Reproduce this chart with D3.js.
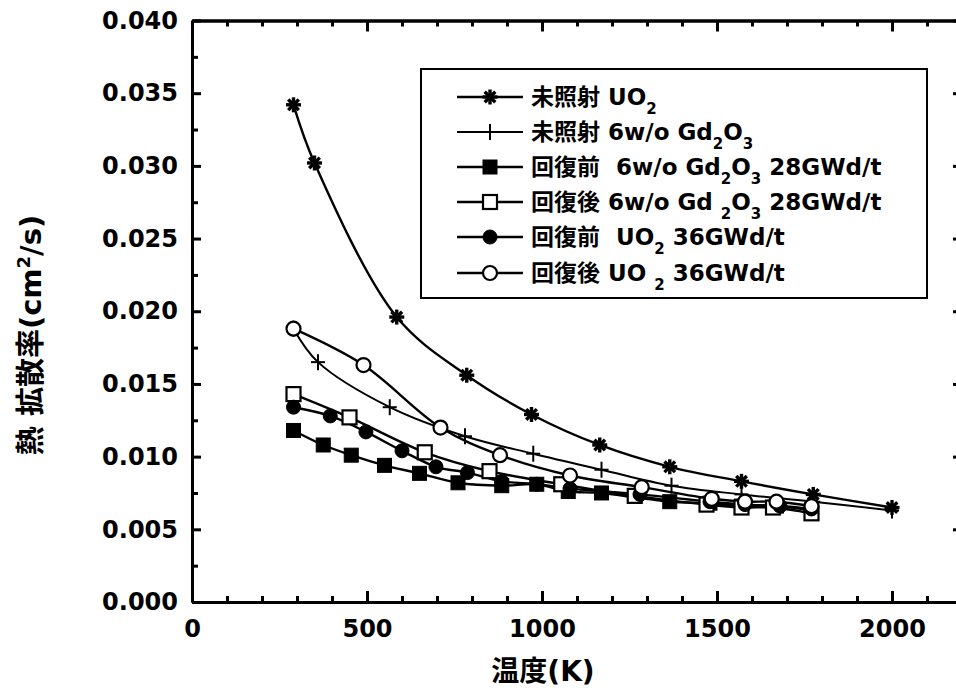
<!DOCTYPE html>
<html><head><meta charset="utf-8">
<script src="https://cdn.jsdelivr.net/npm/d3@7/dist/d3.min.js"></script>
<style>
body{margin:0;background:#fff}
svg{display:block}
text{font-family:"DejaVu Sans","Noto Sans CJK JP",sans-serif;font-weight:bold;fill:#000;white-space:pre}
</style>
</head><body>
<svg id="chart" width="956" height="694"></svg>
<script>
// ---- data ----
const xTickValues = [0, 500, 1000, 1500, 2000];
const yTickValues = [0, 0.005, 0.010, 0.015, 0.020, 0.025, 0.030, 0.035, 0.040];

const t_unirr_uo2 = [290, 350, 585, 785, 970, 1165, 1365, 1570, 1775, 2000];
const d_unirr_uo2 = [0.0342, 0.0302, 0.0196, 0.0156, 0.0129, 0.0108, 0.0093, 0.0083, 0.0074, 0.0065];

const t_unirr_gd = [290, 360, 565, 780, 975, 1170, 1370, 1570, 1775, 2000];
const d_unirr_gd = [0.0188, 0.0165, 0.0134, 0.0114, 0.0102, 0.0091, 0.0080, 0.0074, 0.0069, 0.0063];

const t_pre_gd = [290, 375, 455, 550, 650, 760, 885, 985, 1075, 1170, 1365, 1480, 1570, 1670, 1770];
const d_pre_gd = [0.0118, 0.0108, 0.0101, 0.0094, 0.00885, 0.0082, 0.0080, 0.0081, 0.0076, 0.0075, 0.0069, 0.0068, 0.0066, 0.0066, 0.0063];

const t_post_gd = [290, 450, 665, 850, 1055, 1265, 1470, 1570, 1660, 1770];
const d_post_gd = [0.0143, 0.0127, 0.0103, 0.0090, 0.0081, 0.0073, 0.0067, 0.0065, 0.0065, 0.0061];

const t_pre_uo2 = [290, 395, 497, 600, 697, 787, 885, 985, 1080, 1280, 1480, 1580, 1680, 1770];
const d_pre_uo2 = [0.0134, 0.0128, 0.0117, 0.0104, 0.0093, 0.0089, 0.0083, 0.0081, 0.0078, 0.0074, 0.0069, 0.0067, 0.0066, 0.0064];

const t_post_uo2 = [290, 490, 710, 880, 1080, 1285, 1485, 1580, 1670, 1770];
const d_post_uo2 = [0.0188, 0.0163, 0.0120, 0.0101, 0.0087, 0.0079, 0.0071, 0.0069, 0.0069, 0.0066];

const seriesMarkers = ["asterisk", "plus", "fsquare", "osquare", "fcircle", "ocircle"];
const legendLabels = [
  [["未照射 UO"], ["2", "sub"]],
  [["未照射 6w/o Gd"], ["2", "sub"], ["O"], ["3", "sub"]],
  [["回復前  6w/o Gd"], ["2", "sub"], ["O"], ["3", "sub"], [" 28GWd/t"]],
  [["回復後 6w/o Gd "], ["2", "sub"], ["O"], ["3", "sub"], [" 28GWd/t"]],
  [["回復前  UO"], ["2", "sub"], [" 36GWd/t"]],
  [["回復後 UO "], ["2", "sub"], [" 36GWd/t"]]
];
const xTitle = "温度(K)";

// ---- build ----
const series = [
  [t_unirr_uo2, d_unirr_uo2],
  [t_unirr_gd, d_unirr_gd],
  [t_pre_gd, d_pre_gd],
  [t_post_gd, d_post_gd],
  [t_pre_uo2, d_pre_uo2],
  [t_post_uo2, d_post_uo2]
].map((s, i) => ({marker: seriesMarkers[i], pts: s[0].map((t, j) => ({t, d: s[1][j]}))}));

const svg = d3.select("#chart");
const x = d3.scaleLinear().domain([0, 2200]).range([192, 962]);
const y = d3.scaleLinear().domain([0, 0.04]).range([602, 20.5]);

const minorX = d3.range(0, 2201, 100).filter(v => v % 500 !== 0);
const minorY = d3.range(0, 17).map(i => i * 0.0025).filter((v, i) => i % 2 === 1);

function styleAxis(g) {
  g.select(".domain").attr("stroke", "#000").attr("stroke-width", 3);
  g.selectAll(".tick line").attr("stroke", "#000").attr("stroke-width", 3);
  g.selectAll(".tick text").style("font-size", "24px");
}

// bottom
svg.append("g").attr("transform", "translate(0,602)")
  .call(d3.axisBottom(x).tickValues(minorX).tickSize(-6).tickFormat("").tickSizeOuter(0)).call(styleAxis);
svg.append("g").attr("transform", "translate(0,602)")
  .call(d3.axisBottom(x).tickValues(xTickValues).tickSize(-11).tickPadding(18).tickFormat(d3.format("d")).tickSizeOuter(0)).call(styleAxis);
// top
svg.append("g").attr("transform", "translate(0,20.5)")
  .call(d3.axisTop(x).tickValues(minorX).tickSize(-6).tickFormat("").tickSizeOuter(0)).call(styleAxis);
svg.append("g").attr("transform", "translate(0,20.5)")
  .call(d3.axisTop(x).tickValues(xTickValues).tickSize(-11).tickFormat("").tickSizeOuter(0)).call(styleAxis);
// left
svg.append("g").attr("transform", "translate(192,0)")
  .call(d3.axisLeft(y).tickValues(minorY).tickSize(-6).tickFormat("").tickSizeOuter(0)).call(styleAxis);
svg.append("g").attr("transform", "translate(192,0)")
  .call(d3.axisLeft(y).tickValues(yTickValues).tickSize(-9).tickPadding(14).tickFormat(d3.format(".3f")).tickSizeOuter(0)).call(styleAxis);
// right
svg.append("g").attr("transform", "translate(962,0)")
  .call(d3.axisRight(y).tickValues(minorY).tickSize(-6).tickFormat("").tickSizeOuter(0)).call(styleAxis);
svg.append("g").attr("transform", "translate(962,0)")
  .call(d3.axisRight(y).tickValues(yTickValues).tickSize(-9).tickFormat("").tickSizeOuter(0)).call(styleAxis);

// titles
svg.append("text").attr("x", 543).attr("y", 681).attr("text-anchor", "middle")
  .style("font-size", "28px").text(xTitle);
const yt = svg.append("text").attr("transform", "translate(41,335) rotate(-90)")
  .attr("text-anchor", "middle").style("font-size", "29px");
yt.append("tspan").text("熱 拡散率(cm");
yt.append("tspan").attr("dy", -11).style("font-size", "18px").text("2");
yt.append("tspan").attr("dy", 11).text("/s)");

// markers
function drawMarker(g, type, cx, cy) {
  const s = 7.5;
  if (type === "asterisk") {
    [0, 45, 90, 135].forEach(a => {
      const r = a * Math.PI / 180;
      g.append("line").attr("x1", cx - s * Math.cos(r)).attr("y1", cy - s * Math.sin(r))
        .attr("x2", cx + s * Math.cos(r)).attr("y2", cy + s * Math.sin(r))
        .attr("stroke", "#000").attr("stroke-width", 3.4);
    });
  } else if (type === "plus") {
    g.append("line").attr("x1", cx - 7).attr("y1", cy).attr("x2", cx + 7).attr("y2", cy).attr("stroke", "#000").attr("stroke-width", 2);
    g.append("line").attr("x1", cx).attr("y1", cy - 8).attr("x2", cx).attr("y2", cy + 8).attr("stroke", "#000").attr("stroke-width", 2);
  } else if (type === "fsquare" || type === "osquare") {
    const o = type === "osquare";
    g.append("rect").attr("x", cx - 7).attr("y", cy - 7).attr("width", 14).attr("height", 14)
      .attr("fill", o ? "#fff" : "#000").attr("stroke", "#000").attr("stroke-width", o ? 2.2 : 1);
  } else {
    const o = type === "ocircle";
    g.append("circle").attr("cx", cx).attr("cy", cy).attr("r", 7)
      .attr("fill", o ? "#fff" : "#000").attr("stroke", "#000").attr("stroke-width", o ? 2.2 : 1);
  }
}

const line = d3.line().x(d => x(d.t)).y(d => y(d.d)).curve(d3.curveCatmullRom.alpha(0.5));
const plot = svg.append("g");
series.forEach(s => {
  plot.append("path").datum(s.pts).attr("d", line).attr("fill", "none")
    .attr("stroke", "#000").attr("stroke-width", s.marker === "plus" ? 2 : 2.4);
});
series.forEach(s => {
  const g = plot.append("g");
  s.pts.forEach(p => drawMarker(g, s.marker, x(p.t), y(p.d)));
});

// legend
const lg = svg.append("g");
lg.append("rect").attr("x", 421).attr("y", 69).attr("width", 506).attr("height", 229)
  .attr("fill", "#fff").attr("stroke", "#000").attr("stroke-width", 2);
const rowY = [97, 132, 167, 202, 237, 273];
series.forEach((s, i) => {
  const yy = rowY[i];
  lg.append("line").attr("x1", 457).attr("x2", 523).attr("y1", yy).attr("y2", yy)
    .attr("stroke", "#000").attr("stroke-width", s.marker === "plus" ? 2 : 2.4);
  drawMarker(lg, s.marker, 490, yy);
  const t = lg.append("text").attr("x", 531).attr("y", yy + 8).style("font-size", "23px");
  let shift = 0;
  legendLabels[i].forEach(seg => {
    const target = seg[1] === "sub" ? 9 : 0;
    const ts = t.append("tspan").attr("dy", target - shift).text(seg[0]);
    if (seg[1] === "sub") ts.style("font-size", "15px");
    shift = target;
  });
});
</script>
</body></html>
